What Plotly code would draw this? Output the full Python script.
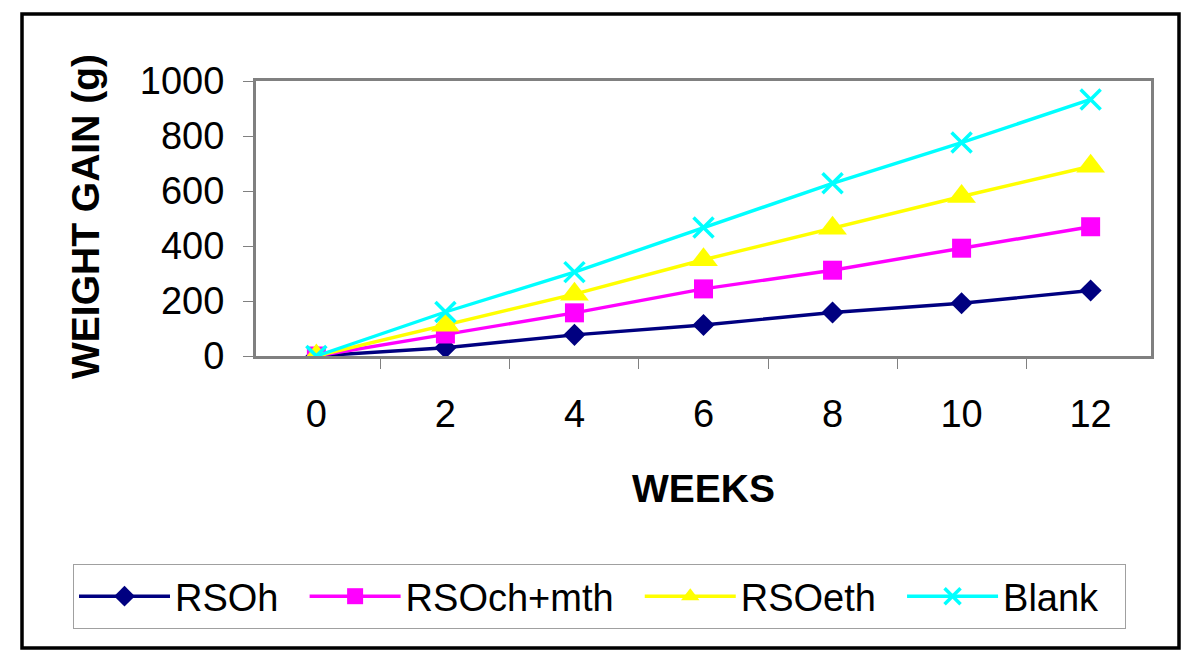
import plotly.graph_objects as go

weeks = ["0", "2", "4", "6", "8", "10", "12"]
rsoh = [0, 30, 77, 113, 158, 192, 238]
rsoch_mth = [0, 80, 157, 244, 312, 392, 470]
rsoeth = [0, 112, 225, 350, 465, 580, 690]
blank = [0, 160, 305, 467, 628, 776, 933]

FONT = "Liberation Sans, Arial, sans-serif"
PAD = "\u00a0\u00a0"

series = [
    ("RSOh", rsoh, "#000080", "diamond", 17, 0),
    ("RSOch+mth", rsoch_mth, "#FF00FF", "square", 19, 0),
    ("RSOeth", rsoeth, "#FFFF00", "triangle-up", 25, 0),
    ("Blank", blank, "#00FFFF", "x-thin", 20, 3.5),
]

fig = go.Figure()
for name, vals, color, sym, size, lw in series:
    marker = dict(symbol=sym, size=size, color=color)
    if lw:
        marker["line"] = dict(color=color, width=lw)
    else:
        marker["line"] = dict(width=0)
    fig.add_trace(go.Scatter(
        x=weeks, y=vals, name=name + PAD, mode="lines+markers",
        line=dict(color=color, width=3.4), marker=marker,
    ))

OFF = 8  # page body margin
W, H = 1200 - OFF, 664 - OFF
L, R, T, B = 256 - OFF, 1151 - OFF, 81 - OFF, 356 - OFF


def px(xp):
    return (xp - OFF - L) / (R - L)


def py(yp):
    return (B - (yp - OFF)) / (B - T)


fig.update_layout(
    width=W, height=H,
    margin=dict(l=L, r=W - R, t=T, b=H - B, autoexpand=False),
    paper_bgcolor="white", plot_bgcolor="white",
    font=dict(family=FONT, color="black", size=37),
    showlegend=True,
    legend=dict(
        orientation="h", x=px(73), y=py(564), xanchor="left", yanchor="top",
        bgcolor="white", bordercolor="#A0A0A0", borderwidth=1,
        font=dict(size=38, family=FONT), itemwidth=91,
    ),
    xaxis=dict(
        type="category", tickson="boundaries", ticks="outside", ticklen=10,
        tickcolor="#808080", tickwidth=1, showgrid=False,
        showline=True, linecolor="#808080", linewidth=3, mirror=True,
        tickfont=dict(size=38), ticklabelstandoff=22, zeroline=False,
    ),
    yaxis=dict(
        range=[0, 1000], dtick=200, ticks="outside", ticklen=10,
        tickcolor="#808080", tickwidth=1, showgrid=False, zeroline=False,
        showline=True, linecolor="#808080", linewidth=3, mirror=True,
        tickfont=dict(size=38), ticklabelstandoff=11,
    ),
    annotations=[
        dict(text="<b>WEIGHT GAIN (g)</b>", textangle=-90, xref="paper", yref="paper",
             x=px(85), y=py(217), xanchor="center", yanchor="middle",
             showarrow=False, font=dict(size=39, family=FONT)),
        dict(text="<b>WEEKS</b>", xref="paper", yref="paper",
             x=px(703), y=py(488), xanchor="center", yanchor="middle",
             showarrow=False, font=dict(size=39, family=FONT)),
    ],
    shapes=[
        dict(type="rect", xref="paper", yref="paper",
             x0=px(22), x1=px(1179), y0=py(648), y1=py(14),
             line=dict(color="black", width=3.5), fillcolor="rgba(0,0,0,0)", layer="below"),
    ],
)

fig.write_html("out.html")
